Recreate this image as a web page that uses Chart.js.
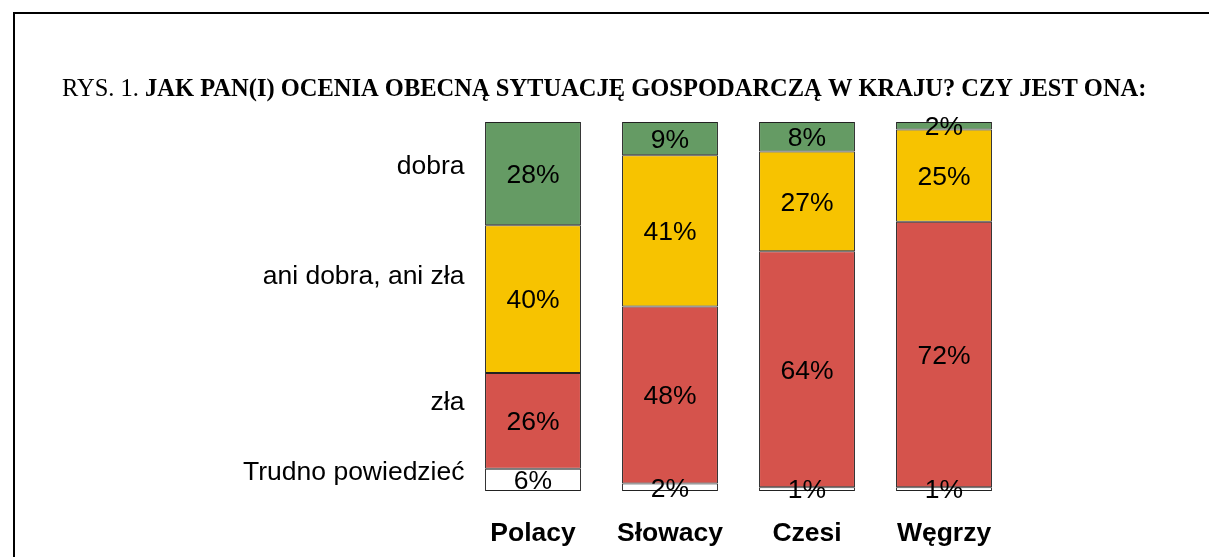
<!DOCTYPE html>
<html>
<head>
<meta charset="utf-8">
<script src="https://cdn.jsdelivr.net/npm/chart.js@4/dist/chart.umd.min.js"></script>
<style>
  html, body { margin: 0; padding: 0; background: #fff; }
  #c { display: block; }
</style>
</head>
<body>
<canvas id="c" width="1209" height="557"></canvas>
<script>
const categories = ["Polacy", "Słowacy", "Czesi", "Węgrzy"];
const trudno = [6, 2, 1, 1];
const zla = [26, 48, 64, 72];
const ani = [40, 41, 27, 25];
const dobra = [28, 9, 8, 2];
const seriesNames = ["Trudno powiedzieć", "zła", "ani dobra, ani zła", "dobra"];

const titleLead = "RYS. 1. ";
const titleBold = "JAK PAN(I) OCENIA OBECNĄ SYTUACJĘ GOSPODARCZĄ W KRAJU? CZY JEST ONA:";

// where the series names sit on the y scale (beside the first bar)
const nameLevels = [4.9, 23.9, 58, 87.8];

const colors = ["#ffffff", "#d5534c", "#f7c300", "#659b64"];

// frame + title
const framePlugin = {
  id: "frame",
  beforeDraw(chart) {
    const ctx = chart.ctx;
    ctx.save();
    ctx.strokeStyle = "#000";
    ctx.lineWidth = 2;
    ctx.strokeRect(14, 13, 1400, 800);

    ctx.fillStyle = "#000";
    ctx.textBaseline = "alphabetic";
    ctx.textAlign = "left";
    ctx.font = "24.5px 'Liberation Serif'";
    ctx.fillText(titleLead, 62, 96);
    const w = ctx.measureText(titleLead).width;
    ctx.font = "bold 24.5px 'Liberation Serif'";
    ctx.fillText(titleBold, 62 + w, 96);
    ctx.restore();
  }
};

// values inside segments + series names at left
const labelPlugin = {
  id: "segLabels",
  afterDatasetsDraw(chart) {
    const ctx = chart.ctx;
    ctx.save();
    ctx.fillStyle = "#000";
    ctx.font = "26.5px 'Liberation Sans'";
    ctx.textAlign = "center";
    ctx.textBaseline = "middle";
    chart.data.datasets.forEach((ds, i) => {
      const meta = chart.getDatasetMeta(i);
      meta.data.forEach((bar, j) => {
        const y = (bar.y + bar.base) / 2;
        ctx.fillText(ds.data[j] + "%", bar.x, y + 2);
      });
    });
    const yScale = chart.scales.y;
    const left = chart.chartArea.left;
    ctx.textAlign = "right";
    seriesNames.forEach((name, i) => {
      ctx.fillText(name, left, yScale.getPixelForValue(nameLevels[i]));
    });
    ctx.restore();
  }
};

new Chart(document.getElementById("c"), {
  type: "bar",
  data: {
    labels: categories,
    datasets: [trudno, zla, ani, dobra].map((d, i) => ({
      label: seriesNames[i],
      data: d,
      backgroundColor: colors[i],
      borderColor: "#222",
      borderWidth: 1,
      borderSkipped: false,
      categoryPercentage: 1,
      barPercentage: 0.7
    }))
  },
  options: {
    responsive: false,
    animation: false,
    devicePixelRatio: 1,
    layout: { padding: { left: 464.5, right: 196.5, top: 122, bottom: 9 } },
    plugins: { legend: { display: false }, tooltip: { enabled: false }, title: { display: false } },
    scales: {
      x: {
        stacked: true,
        grid: { display: false, drawTicks: false },
        border: { display: false },
        afterFit(scale) { scale.height = 57; },
        ticks: {
          color: "#000",
          padding: 27,
          font: { family: "'Liberation Sans'", size: 26.5, weight: "bold" }
        }
      },
      y: {
        stacked: true,
        display: false,
        min: 0,
        max: 100
      }
    }
  },
  plugins: [framePlugin, labelPlugin]
});
</script>
</body>
</html>
